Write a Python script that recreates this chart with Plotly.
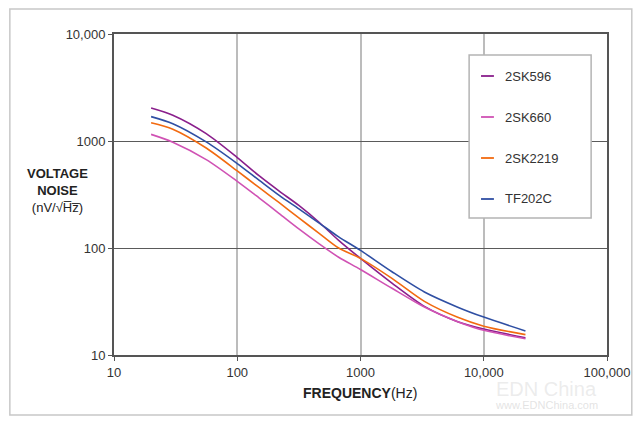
import plotly.graph_objects as go

# Data
freq_hz = [20, 30, 56, 100, 151, 219, 316, 459, 665, 1000, 1800, 3300, 6150, 10000, 21800]
noise_2sk596 = [2030, 1740, 1170, 700, 471, 340, 250, 175, 118, 80, 47, 28.5, 20.5, 17.5, 14.5]
noise_2sk660 = [1153, 975, 670, 420, 293, 210, 151, 110, 82, 63, 42, 28.1, 20.5, 17.0, 14.2]
noise_2sk2219 = [1483, 1290, 860, 525, 366, 265, 191, 138, 100, 80, 52, 31.7, 22.5, 18.6, 15.5]
noise_tf202c = [1690, 1450, 980, 615, 428, 310, 232, 172, 127, 95, 60, 38.8, 28.0, 22.6, 16.8]

series_names = ["2SK596", "2SK660", "2SK2219", "TF202C"]
series_values = [noise_2sk596, noise_2sk660, noise_2sk2219, noise_tf202c]
series_colors = ["#8a1f8c", "#d052b4", "#f26a10", "#2f4fa3"]

x_tickvals = [10, 100, 1000, 10000, 100000]
x_ticktext = ["10", "100", "1000", "10,000", "100,000"]
y_tickvals = [10, 100, 1000, 10000]
y_ticktext = ["10", "100", "1000", "10,000"]

FONT = "Liberation Sans, Arial, Helvetica, sans-serif"
W, H = 643, 426
L, R, T, B = 114, 32, 34, 71

fig = go.Figure()
for name, vals, col in zip(series_names, series_values, series_colors):
    fig.add_trace(go.Scatter(x=freq_hz, y=vals, mode="lines", name=name,
                             line=dict(color=col, width=1.6, shape="spline", smoothing=0.8),
                             showlegend=False))


def ppx(x):
    return (x - L) / (W - L - R)


def ppy(y):
    return (H - B - y) / (H - T - B)


shapes = []
annotations = []
# outer frame
shapes.append(dict(type="rect", xref="paper", yref="paper",
                   x0=ppx(9), x1=ppx(636), y0=ppy(415), y1=ppy(9),
                   line=dict(color="#c8c8c8", width=1.5), fillcolor="rgba(0,0,0,0)", layer="below"))

# legend box
shapes.append(dict(type="rect", xref="paper", yref="paper",
                   x0=ppx(472), x1=ppx(595), y0=ppy(218), y1=ppy(55),
                   line=dict(color="#b4b4b4", width=1.5), fillcolor="white", layer="above"))
for i, (name, col) in enumerate(zip(series_names, series_colors)):
    yy = 76 + i * 41
    shapes.append(dict(type="line", xref="paper", yref="paper",
                       x0=ppx(484), x1=ppx(497), y0=ppy(yy), y1=ppy(yy),
                       line=dict(color=col, width=1.8), layer="above"))
    annotations.append(dict(xref="paper", yref="paper", x=ppx(506), y=ppy(yy),
                            text=name, showarrow=False, xanchor="left", yanchor="middle",
                            font=dict(family=FONT, size=13, color="#333333")))

# y title
annotations.append(dict(xref="paper", yref="paper", x=ppx(57), y=ppy(190),
                        text="<b>VOLTAGE<br>NOISE</b><br>(nV/√H\u0305z\u0305)",
                        showarrow=False, xanchor="center", yanchor="middle", align="center",
                        font=dict(family=FONT, size=13, color="#222222")))
# x title
annotations.append(dict(xref="paper", yref="paper", x=ppx(362), y=ppy(393),
                        text="<b>FREQUENCY</b>(Hz)", showarrow=False,
                        xanchor="center", yanchor="middle",
                        font=dict(family=FONT, size=14, color="#222222")))
# watermark
annotations.append(dict(xref="paper", yref="paper", x=ppx(550), y=ppy(389),
                        text="EDN China", showarrow=False, xanchor="center", yanchor="middle",
                        font=dict(family=FONT, size=20, color="rgba(200,200,200,0.35)")))
annotations.append(dict(xref="paper", yref="paper", x=ppx(550), y=ppy(405),
                        text="www.EDNChina.com", showarrow=False, xanchor="center", yanchor="middle",
                        font=dict(family=FONT, size=11, color="rgba(200,200,200,0.5)")))

fig.update_layout(
    width=W, height=H,
    margin=dict(l=L, r=R, t=T, b=B, pad=0),
    paper_bgcolor="white", plot_bgcolor="white",
    shapes=shapes, annotations=annotations,
    font=dict(family=FONT, size=13, color="#333333"),
    xaxis=dict(type="log", range=[1, 5], tickvals=x_tickvals, ticktext=x_ticktext,
               showgrid=True, gridcolor="#bcbcbc", gridwidth=2,
               showline=True, linecolor="#555555", linewidth=2, mirror=True,
               ticks="outside", ticklen=4, tickcolor="#555555",
               tickfont=dict(family=FONT, size=13, color="#333333"), zeroline=False),
    yaxis=dict(type="log", range=[1, 4], tickvals=y_tickvals, ticktext=y_ticktext,
               showgrid=True, gridcolor="#5a5a5a", gridwidth=1,
               showline=True, linecolor="#555555", linewidth=2, mirror=True,
               ticks="outside", ticklen=4, tickcolor="#555555",
               tickfont=dict(family=FONT, size=13, color="#333333"), zeroline=False),
)

fig.write_html("out.html")
